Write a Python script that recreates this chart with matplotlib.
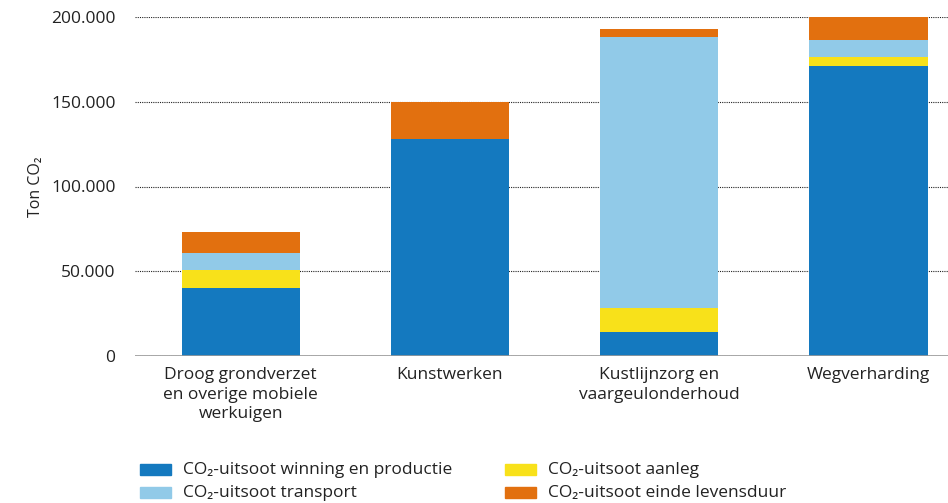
import matplotlib
matplotlib.use("Agg")
import matplotlib.pyplot as plt
from matplotlib.patches import Rectangle
from matplotlib.ticker import FuncFormatter

plt.rcParams['font.family'] = ['Open Sans', 'DejaVu Sans']

categories = ["Droog grondverzet\nen overige mobiele\nwerkuigen", "Kunstwerken",
              "Kustlijnzorg en\nvaargeulonderhoud", "Wegverharding"]
winning = [40100, 128000, 14200, 171100]
aanleg = [10800, 0, 14100, 5100]
transport = [9900, 0, 159700, 10100]
einde = [12400, 22000, 4900, 13700]

series = [
    ("CO₂-uitsoot winning en productie", winning, "#1479bf"),
    ("CO₂-uitsoot aanleg", aanleg, "#f8e11a"),
    ("CO₂-uitsoot transport", transport, "#91cae8"),
    ("CO₂-uitsoot einde levensduur", einde, "#e2700f"),
]

FS = 12.5
fig = plt.figure(figsize=(9.48, 5.03), dpi=100)
ax = fig.add_axes([135/948, (503-356)/503, 1-135/948, (356-17)/503])

x = list(range(len(categories)))
bottom = [0]*len(categories)
for name, vals, col in series:
    ax.bar(x, vals, width=0.565, bottom=bottom, color=col, edgecolor='none', zorder=3)
    bottom = [b+v for b, v in zip(bottom, vals)]

ax.set_ylim(0, 200000)
ax.set_xlim(-0.505, 3.38)
ax.set_yticks([0, 50000, 100000, 150000, 200000])
ax.yaxis.set_major_formatter(FuncFormatter(lambda v, p: "0" if v == 0 else f"{int(v):,}".replace(",", ".")))
ax.grid(axis='y', linestyle=(0, (1, 1)), color='#222222', linewidth=0.8, zorder=0)
ax.axhline(0, color='#999999', linewidth=1.2, zorder=4)
for s in ax.spines.values():
    s.set_visible(False)
ax.tick_params(axis='both', length=0, labelsize=FS, colors='#222222')
ax.tick_params(axis='y', pad=14)
ax.tick_params(axis='x', pad=8)
ax.set_xticks(x)
ax.set_xticklabels(categories, linespacing=1.3)
ax.set_ylabel("Ton CO₂", fontsize=FS-1, color='#222222', labelpad=5)

# legend (manual layout)
items = [(series[0], 140, 470), (series[2], 140, 493), (series[1], 505, 470), (series[3], 505, 493)]
for (name, vals, col), px, py in items:
    fig.patches.append(Rectangle((px/948, 1-(py+5)/503), 31/948, 11/503,
                                 transform=fig.transFigure, color=col, zorder=5))
    fig.text((px+43)/948, 1-py/503, name, fontsize=FS, va='center', ha='left', color='#222222')

fig.savefig("out.png", dpi=100)
